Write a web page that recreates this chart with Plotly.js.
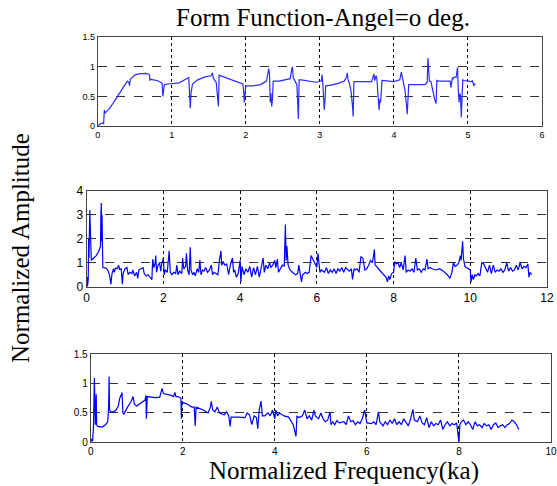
<!DOCTYPE html>
<html>
<head>
<meta charset="utf-8">
<script src="https://cdn.plot.ly/plotly-3.0.1.min.js"></script>
<style>html,body{margin:0;padding:0;background:#fff;}#chart{width:557px;height:486px;}</style>
</head>
<body>
<div id="chart"></div>
<script>
// Panel 1: form function 0..5.1 ka  [x, amplitude]
var series1 = [[0,0],[0.03,0.03],[0.05,0.05],[0.08,0.04],[0.09,0.27],[0.095,0.24],[0.1,0.22],[0.15,0.28],[0.2,0.37],[0.27,0.5],[0.33,0.62],[0.38,0.72],[0.4,0.76],[0.42,0.74],[0.43,0.68],[0.44,0.79],[0.5,0.86],[0.55,0.88],[0.6,0.89],[0.65,0.89],[0.68,0.88],[0.7,0.86],[0.705,0.77],[0.72,0.79],[0.75,0.78],[0.8,0.77],[0.85,0.74],[0.87,0.72],[0.88,0.5],[0.89,0.62],[0.9,0.7],[0.95,0.71],[1.0,0.72],[1.1,0.73],[1.2,0.8],[1.23,0.82],[1.25,0.3],[1.26,0.55],[1.28,0.71],[1.35,0.78],[1.45,0.83],[1.53,0.85],[1.55,0.9],[1.56,0.82],[1.58,0.77],[1.6,0.74],[1.63,0.33],[1.64,0.86],[1.7,0.83],[1.8,0.78],[1.9,0.74],[1.96,0.71],[1.97,0.6],[1.98,0.4],[1.99,0.55],[2.0,0.68],[2.1,0.68],[2.2,0.7],[2.28,0.76],[2.31,0.97],[2.32,0.88],[2.33,0.4],[2.34,0.55],[2.35,0.33],[2.36,0.45],[2.37,0.76],[2.45,0.76],[2.55,0.78],[2.6,0.8],[2.62,0.96],[2.63,1.0],[2.64,0.82],[2.67,0.75],[2.69,0.7],[2.71,0.12],[2.72,0.78],[2.75,0.78],[2.85,0.76],[2.95,0.74],[3.02,0.76],[3.03,0.87],[3.04,0.72],[3.05,0.5],[3.06,0.27],[3.07,0.45],[3.08,0.68],[3.15,0.69],[3.25,0.72],[3.33,0.76],[3.36,0.83],[3.37,0.9],[3.38,0.78],[3.4,0.72],[3.42,0.6],[3.44,0.35],[3.45,0.16],[3.46,0.75],[3.5,0.75],[3.6,0.75],[3.7,0.75],[3.72,0.84],[3.73,0.88],[3.74,0.77],[3.76,0.85],[3.77,0.8],[3.79,0.5],[3.8,0.27],[3.81,0.45],[3.82,0.4],[3.84,0.77],[3.9,0.76],[4.0,0.75],[4.08,0.78],[4.1,0.91],[4.11,0.85],[4.13,0.7],[4.15,0.6],[4.17,0.35],[4.18,0.2],[4.2,0.7],[4.3,0.7],[4.42,0.7],[4.45,0.74],[4.46,1.15],[4.47,0.95],[4.48,0.76],[4.5,0.75],[4.52,0.6],[4.55,0.45],[4.57,0.38],[4.58,0.77],[4.6,0.76],[4.7,0.76],[4.76,0.76],[4.77,0.65],[4.78,0.75],[4.79,0.82],[4.8,0.8],[4.82,0.83],[4.84,0.82],[4.85,0.9],[4.86,0.99],[4.87,0.6],[4.88,0.4],[4.89,0.55],[4.9,0.5],[4.91,0.15],[4.92,0.5],[4.93,0.78],[4.95,0.77],[5.0,0.76],[5.05,0.75],[5.06,0.77],[5.08,0.68],[5.1,0.72]];

// Panel 2: 0..11.6 ka
var series2 = [[0,0],[0.01,0.4],[0.02,0],[0.04,0.3],[0.05,2.0],[0.06,1.2],[0.08,3.2],[0.1,1.5],[0.12,1.1],[0.18,1.2],[0.25,1.3],[0.32,1.5],[0.36,1.7],[0.37,3.0],[0.38,3.5],[0.39,1.9],[0.4,3.0],[0.42,0.8],[0.5,0.78],[0.55,0.7],[0.6,0.45],[0.63,0.1],[0.66,0.55],[0.7,0.75],[0.72,0.6],[0.75,0.78],[0.8,0.75],[0.83,0.9],[0.86,0.72],[0.9,0.75],[0.93,0.1],[0.95,0.55],[1.0,0.75],[1.05,0.8],[1.08,0.5],[1.12,0.6],[1.18,0.55],[1.2,0.7],[1.25,0.45],[1.3,0.6],[1.33,0.35],[1.36,0.7],[1.42,0.75],[1.47,0.8],[1.5,0.55],[1.55,0.45],[1.6,0.5],[1.65,0.38],[1.7,0.3],[1.72,1.15],[1.75,0.8],[1.78,0.95],[1.8,1.3],[1.82,0.6],[1.86,0.9],[1.9,1.0],[1.93,0.65],[1.96,1.0],[2.0,1.2],[2.02,0.5],[2.05,0.7],[2.1,0.6],[2.15,1.5],[2.18,0.6],[2.22,0.5],[2.27,0.6],[2.32,0.55],[2.35,0.9],[2.38,0.5],[2.42,0.65],[2.48,0.55],[2.5,1.2],[2.53,0.75],[2.58,0.85],[2.6,1.4],[2.63,0.7],[2.67,0.5],[2.7,1.65],[2.72,0.7],[2.76,0.5],[2.8,0.6],[2.83,0.45],[2.88,0.75],[2.92,0.6],[2.95,1.1],[2.98,0.5],[3.02,0.7],[3.06,0.65],[3.1,0.8],[3.15,0.6],[3.2,0.7],[3.25,0.9],[3.28,0.5],[3.32,0.6],[3.38,0.55],[3.42,0.5],[3.46,1.1],[3.5,1.5],[3.52,0.9],[3.56,1.05],[3.6,0.9],[3.65,0.95],[3.7,0.5],[3.75,0.95],[3.8,1.2],[3.83,0.6],[3.86,0.7],[3.9,0.4],[3.95,0.55],[4.0,1.1],[4.02,0.2],[4.05,0.85],[4.1,0.5],[4.15,0.75],[4.2,0.6],[4.25,0.85],[4.3,0.4],[4.35,0.8],[4.4,0.5],[4.45,0.85],[4.5,0.4],[4.55,0.8],[4.6,1.2],[4.63,0.6],[4.67,0.9],[4.72,0.75],[4.77,1.0],[4.8,0.8],[4.85,0.9],[4.9,1.1],[4.93,0.8],[4.97,1.15],[5.0,0.6],[5.05,0.75],[5.1,0.9],[5.15,0.85],[5.18,2.6],[5.2,1.1],[5.22,1.7],[5.25,0.9],[5.3,0.7],[5.4,0.55],[5.45,0.5],[5.5,0.55],[5.53,0.9],[5.56,0.6],[5.6,0.2],[5.63,0.5],[5.7,0.6],[5.75,0.55],[5.8,0.6],[5.85,1.3],[5.88,1.2],[5.92,1.0],[5.96,0.9],[6.0,0.8],[6.03,1.4],[6.05,0.9],[6.08,0.6],[6.12,0.7],[6.2,0.6],[6.25,0.8],[6.3,0.55],[6.35,0.7],[6.4,0.6],[6.45,0.75],[6.5,0.55],[6.55,0.75],[6.6,0.65],[6.65,0.8],[6.7,0.6],[6.75,0.8],[6.8,0.7],[6.85,0.65],[6.9,0.75],[6.93,0.3],[6.97,0.75],[7.0,0.7],[7.05,0.75],[7.1,0.6],[7.15,1.25],[7.2,1.2],[7.25,0.7],[7.3,0.75],[7.35,0.9],[7.4,1.1],[7.45,1.0],[7.5,1.55],[7.52,0.9],[7.56,0.85],[7.6,0.75],[7.65,0.65],[7.7,0.55],[7.75,0.5],[7.8,0.4],[7.84,0.2],[7.87,0.45],[7.9,0.3],[7.95,0.55],[8.0,0.6],[8.03,1.05],[8.07,0.95],[8.12,1.0],[8.16,0.8],[8.2,1.0],[8.25,0.7],[8.3,1.3],[8.33,0.6],[8.38,0.7],[8.43,0.65],[8.48,0.75],[8.53,0.6],[8.58,1.2],[8.62,0.7],[8.67,0.75],[8.72,0.6],[8.78,0.75],[8.82,0.7],[8.87,1.15],[8.9,0.75],[8.95,0.8],[9.0,0.75],[9.1,0.7],[9.2,0.75],[9.3,0.65],[9.4,0.5],[9.47,0.35],[9.52,0.6],[9.56,1.0],[9.6,0.85],[9.65,0.9],[9.7,1.0],[9.74,1.3],[9.76,1.1],[9.8,1.9],[9.82,1.2],[9.86,0.85],[9.9,0.8],[9.95,0.75],[10.0,0.7],[10.02,0.2],[10.05,0.5],[10.08,0.3],[10.12,0.5],[10.16,0.45],[10.2,0.55],[10.25,0.45],[10.3,1.0],[10.35,0.95],[10.4,0.8],[10.45,0.6],[10.5,0.9],[10.55,0.55],[10.6,0.9],[10.65,0.6],[10.7,0.7],[10.75,0.65],[10.8,0.75],[10.85,0.6],[10.9,0.7],[10.95,1.0],[11.0,0.65],[11.05,0.8],[11.1,0.65],[11.15,0.7],[11.2,0.9],[11.25,0.7],[11.3,1.0],[11.35,0.75],[11.4,0.85],[11.45,0.8],[11.5,0.95],[11.53,0.4],[11.56,0.6],[11.6,0.5]];

// Panel 3: 0..9.3 ka
var series3 = [[0,0],[0.02,0.06],[0.04,0.02],[0.05,0.1],[0.06,0.25],[0.08,1.1],[0.09,0.35],[0.1,0.3],[0.12,0.82],[0.13,0.3],[0.15,0.27],[0.25,0.26],[0.32,0.3],[0.37,0.35],[0.39,0.6],[0.4,1.12],[0.41,0.55],[0.44,0.52],[0.5,0.52],[0.55,0.55],[0.6,0.62],[0.63,0.75],[0.66,0.8],[0.68,0.85],[0.7,0.5],[0.72,0.48],[0.8,0.6],[0.88,0.7],[0.92,0.78],[0.95,0.65],[1.0,0.62],[1.1,0.67],[1.18,0.72],[1.2,0.8],[1.21,0.4],[1.23,0.78],[1.3,0.77],[1.4,0.76],[1.5,0.77],[1.53,0.88],[1.55,0.92],[1.58,0.83],[1.65,0.82],[1.75,0.8],[1.8,0.78],[1.83,0.85],[1.85,0.78],[1.9,0.78],[1.96,0.75],[1.97,0.4],[1.98,0.7],[2.0,0.68],[2.1,0.65],[2.2,0.6],[2.25,0.6],[2.27,0.28],[2.29,0.6],[2.35,0.58],[2.45,0.55],[2.55,0.5],[2.6,0.6],[2.62,0.7],[2.65,0.55],[2.7,0.52],[2.75,0.6],[2.8,0.5],[2.9,0.47],[2.95,0.52],[3.0,0.45],[3.03,0.27],[3.05,0.43],[3.2,0.43],[3.35,0.42],[3.4,0.5],[3.45,0.47],[3.5,0.3],[3.55,0.45],[3.6,0.42],[3.63,0.23],[3.66,0.55],[3.7,0.7],[3.73,0.45],[3.78,0.45],[3.85,0.5],[3.9,0.45],[3.95,0.55],[4.0,0.4],[4.02,0.55],[4.06,0.45],[4.1,0.5],[4.2,0.45],[4.3,0.43],[4.4,0.3],[4.46,0.1],[4.48,0.45],[4.52,0.42],[4.6,0.45],[4.65,0.55],[4.7,0.4],[4.75,0.45],[4.8,0.38],[4.85,0.55],[4.88,0.45],[4.95,0.4],[5.0,0.5],[5.05,0.4],[5.1,0.35],[5.15,0.38],[5.2,0.52],[5.22,0.3],[5.26,0.35],[5.3,0.3],[5.35,0.37],[5.4,0.33],[5.5,0.35],[5.55,0.3],[5.6,0.45],[5.65,0.35],[5.7,0.37],[5.75,0.3],[5.8,0.35],[5.85,0.32],[5.9,0.4],[5.95,0.55],[5.98,0.4],[6.0,0.33],[6.1,0.32],[6.15,0.35],[6.2,0.3],[6.25,0.52],[6.28,0.35],[6.35,0.28],[6.4,0.35],[6.45,0.3],[6.5,0.38],[6.55,0.32],[6.6,0.4],[6.65,0.3],[6.7,0.35],[6.75,0.3],[6.8,0.4],[6.85,0.33],[6.9,0.28],[6.95,0.4],[7.0,0.56],[7.03,0.38],[7.1,0.35],[7.15,0.45],[7.2,0.33],[7.25,0.3],[7.3,0.42],[7.35,0.25],[7.4,0.35],[7.45,0.28],[7.5,0.32],[7.55,0.3],[7.6,0.38],[7.65,0.22],[7.7,0.3],[7.75,0.35],[7.8,0.28],[7.85,0.32],[7.9,0.3],[7.95,0.33],[8.0,0.0],[8.02,0.3],[8.05,0.35],[8.1,0.38],[8.15,0.3],[8.2,0.35],[8.25,0.3],[8.3,0.22],[8.35,0.35],[8.4,0.28],[8.45,0.3],[8.5,0.25],[8.55,0.32],[8.6,0.28],[8.65,0.3],[8.7,0.22],[8.75,0.3],[8.8,0.33],[8.85,0.25],[8.9,0.28],[8.95,0.3],[9.0,0.25],[9.05,0.3],[9.1,0.32],[9.15,0.38],[9.2,0.35],[9.25,0.3],[9.3,0.22]];

var xTicks1 = [0,1,2,3,4,5,6];
var yTicks1 = [0,0.5,1,1.5];
var yTickText1 = ['0','0.5','1','1.5'];
var xTicks2 = [0,2,4,6,8,10,12];
var yTicks2 = [0,1,2,3,4];
var xTicks3 = [0,2,4,6,8,10];
var yTicks3 = [0,0.5,1,1.5];
var yTickText3 = ['0','0.5','1','1.5'];

var W = 557, H = 486;
function fx(p){return p/W;}
function fy(p){return 1-p/H;}

function mk(s, xa, ya, col){
  return {x: s.map(function(d){return d[0];}), y: s.map(function(d){return d[1];}),
    xaxis: xa, yaxis: ya, type:'scatter', mode:'lines',
    line:{color:col, width:1.2}, hoverinfo:'skip', showlegend:false};
}

function xax(dom, range, ticks, anchor, fs){
  return {domain:dom, range:range, tickvals:ticks, ticktext:ticks.map(String), anchor:anchor,
    showgrid:true, gridcolor:'#000', griddash:'dot', gridwidth:1, zeroline:false,
    showline:true, mirror:true, linecolor:'#444', linewidth:1, ticks:'',
    tickfont:{family:'Liberation Sans, Arial, sans-serif', size:fs, color:'#000'}, ticklen:0};
}
function yax(dom, range, ticks, txt, anchor, fs){
  return {domain:dom, range:range, tickvals:ticks, ticktext:txt, anchor:anchor,
    showgrid:true, gridcolor:'#333', griddash:'dash', gridwidth:1, zeroline:false,
    showline:true, mirror:true, linecolor:'#444', linewidth:1, ticks:'',
    tickfont:{family:'Liberation Sans, Arial, sans-serif', size:fs, color:'#000'}};
}

var data = [mk(series1,'x','y','#2a2aff'), mk(series2,'x2','y2','#0000ff'), mk(series3,'x3','y3','#0000ff')];

var layout = {
  width:W, height:H, margin:{l:0,r:0,t:0,b:0}, paper_bgcolor:'#fff', plot_bgcolor:'#fff',
  xaxis: xax([fx(97.7),fx(542)],[0,6],xTicks1,'y',9),
  yaxis: yax([fy(126),fy(37.3)],[0,1.5],yTicks1,yTickText1,'x',9),
  xaxis2: xax([fx(86.7),fx(547)],[0,12],xTicks2,'y2',12),
  yaxis2: yax([fy(286.7),fy(191)],[0,4],yTicks2,yTicks2.map(String),'x2',12),
  xaxis3: xax([fx(90.7),fx(551)],[0,10],xTicks3,'y3',10),
  yaxis3: yax([fy(442.3),fy(354.3)],[0,1.5],yTicks3,yTickText3,'x3',10),
  annotations:[
    {text:'Form Function-Angel=o deg.', xref:'paper', yref:'paper', x:fx(323), y:fy(18), xanchor:'center', yanchor:'middle', showarrow:false,
     font:{family:'Liberation Serif, Times New Roman, serif', size:25, color:'#000'}},
    {text:'Normalized Amplitude', xref:'paper', yref:'paper', x:fx(20), y:fy(248), xanchor:'center', yanchor:'middle', showarrow:false, textangle:-90,
     font:{family:'Liberation Serif, Times New Roman, serif', size:25, color:'#000'}},
    {text:'Normalized Frequency(ka)', xref:'paper', yref:'paper', x:fx(344), y:0, xanchor:'center', yanchor:'bottom', showarrow:false, borderpad:0,
     font:{family:'Liberation Serif, Times New Roman, serif', size:25, color:'#000'}}
  ]
};

Plotly.newPlot('chart', data, layout, {staticPlot:true, displayModeBar:false});
</script>
</body>
</html>
